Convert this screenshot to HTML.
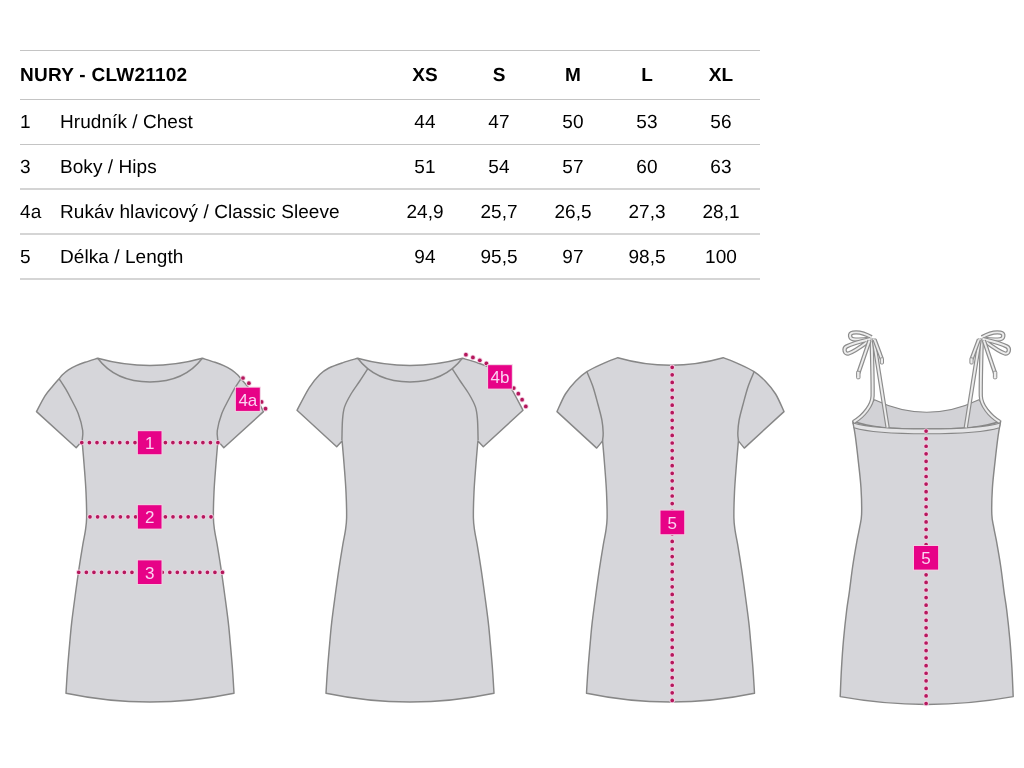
<!DOCTYPE html>
<html><head><meta charset="utf-8"><title>NURY - CLW21102 size chart</title>
<style>
html,body{margin:0;padding:0;background:#fff;}
body{width:1024px;height:768px;position:relative;overflow:hidden;font-family:"Liberation Sans",sans-serif;}
.hl{position:absolute;left:20px;width:740px;height:1px;background:#c4c4c4;}
.t{position:absolute;font-size:19px;color:#000;letter-spacing:0.06px;white-space:nowrap;line-height:22px;text-rendering:geometricPrecision;will-change:transform;}
.b{font-weight:bold;}
.c{width:80px;text-align:center;}
svg{position:absolute;left:0;top:0;}
</style></head>
<body>
<div class="hl" style="top:50px;height:1px;background:#c4c4c4"></div>
<div class="hl" style="top:99px;height:1px;background:#c4c4c4"></div>
<div class="hl" style="top:144px;height:1px;background:#c4c4c4"></div>
<div class="hl" style="top:188px;height:2px;background:#d4d4d4"></div>
<div class="hl" style="top:233px;height:2px;background:#d5d5d5"></div>
<div class="hl" style="top:278px;height:2px;background:#d5d5d5"></div>
<div class="t b" style="left:20px;top:65px;letter-spacing:0.25px">NURY - CLW21102</div>
<div class="t b c" style="left:384.9px;top:65px">XS</div>
<div class="t b c" style="left:458.7px;top:65px">S</div>
<div class="t b c" style="left:532.8px;top:65px">M</div>
<div class="t b c" style="left:607.0px;top:65px">L</div>
<div class="t b c" style="left:681.1px;top:65px">XL</div>
<div class="t" style="left:20px;top:112px">1</div>
<div class="t" style="left:60px;top:112px">Hrudník / Chest</div>
<div class="t c" style="left:384.9px;top:112px">44</div>
<div class="t c" style="left:458.7px;top:112px">47</div>
<div class="t c" style="left:532.8px;top:112px">50</div>
<div class="t c" style="left:607.0px;top:112px">53</div>
<div class="t c" style="left:681.1px;top:112px">56</div>
<div class="t" style="left:20px;top:157px">3</div>
<div class="t" style="left:60px;top:157px">Boky / Hips</div>
<div class="t c" style="left:384.9px;top:157px">51</div>
<div class="t c" style="left:458.7px;top:157px">54</div>
<div class="t c" style="left:532.8px;top:157px">57</div>
<div class="t c" style="left:607.0px;top:157px">60</div>
<div class="t c" style="left:681.1px;top:157px">63</div>
<div class="t" style="left:20px;top:201.5px">4a</div>
<div class="t" style="left:60px;top:201.5px">Rukáv hlavicový / Classic Sleeve</div>
<div class="t c" style="left:384.9px;top:201.5px">24,9</div>
<div class="t c" style="left:458.7px;top:201.5px">25,7</div>
<div class="t c" style="left:532.8px;top:201.5px">26,5</div>
<div class="t c" style="left:607.0px;top:201.5px">27,3</div>
<div class="t c" style="left:681.1px;top:201.5px">28,1</div>
<div class="t" style="left:20px;top:246.5px">5</div>
<div class="t" style="left:60px;top:246.5px">Délka / Length</div>
<div class="t c" style="left:384.9px;top:246.5px">94</div>
<div class="t c" style="left:458.7px;top:246.5px">95,5</div>
<div class="t c" style="left:532.8px;top:246.5px">97</div>
<div class="t c" style="left:607.0px;top:246.5px">98,5</div>
<div class="t c" style="left:681.1px;top:246.5px">100</div>
<svg width="1024" height="768" viewBox="0 0 1024 768">
<path d="M 97.70 358.30 C 95.58 358.97 88.58 361.07 85.00 362.30 C 81.42 363.53 79.02 364.43 76.25 365.70 C 73.48 366.97 70.74 368.33 68.40 369.90 C 66.06 371.47 63.75 373.62 62.20 375.10 C 60.65 376.58 60.67 376.93 59.10 378.75 C 57.53 380.57 55.15 383.14 52.80 386.00 C 50.45 388.86 47.72 391.63 45.00 395.90 C 42.28 400.17 37.92 408.98 36.50 411.60 L 76.20 447.70 L 82.10 440.90 C 82.45 445.08 83.55 457.48 84.20 466.00 C 84.85 474.52 85.60 483.33 86.00 492.00 C 86.40 500.67 86.72 511.47 86.60 518.00 C 86.48 524.53 85.92 526.83 85.30 531.20 C 84.68 535.57 83.99 537.70 82.90 544.20 C 81.81 550.70 80.05 561.53 78.75 570.20 C 77.45 578.88 76.27 587.57 75.10 596.25 C 73.92 604.93 72.55 615.01 71.70 622.30 C 70.85 629.59 70.68 632.38 70.00 640.00 C 69.32 647.62 68.27 659.13 67.60 668.00 C 66.93 676.87 66.27 689.00 66.00 693.20 Q 150.00 710.80 234.00 693.20 C 233.73 689.00 233.07 676.87 232.40 668.00 C 231.73 659.13 230.68 647.62 230.00 640.00 C 229.32 632.38 229.15 629.59 228.30 622.30 C 227.45 615.01 226.07 604.93 224.90 596.25 C 223.73 587.57 222.55 578.88 221.25 570.20 C 219.95 561.53 218.19 550.70 217.10 544.20 C 216.01 537.70 215.32 535.57 214.70 531.20 C 214.08 526.83 213.52 524.53 213.40 518.00 C 213.28 511.47 213.60 500.67 214.00 492.00 C 214.40 483.33 215.15 474.52 215.80 466.00 C 216.45 457.48 217.55 445.08 217.90 440.90 L 223.80 447.70 L 263.50 411.60 C 262.08 408.98 257.72 400.17 255.00 395.90 C 252.28 391.63 249.55 388.86 247.20 386.00 C 244.85 383.14 242.47 380.57 240.90 378.75 C 239.33 376.93 239.35 376.58 237.80 375.10 C 236.25 373.62 233.94 371.47 231.60 369.90 C 229.26 368.33 226.52 366.97 223.75 365.70 C 220.98 364.43 218.57 363.53 215.00 362.30 C 211.43 361.07 204.42 358.97 202.30 358.30 Q 150.00 372.8 97.70 358.30 Z" fill="#d6d6da" stroke="#878787" stroke-width="1.45" stroke-linejoin="round"/>
<path d="M 97.70 358.30 C 108.00 372.00 125.00 382.00 150.00 382.00 C 175.00 382.00 192.00 372.00 202.30 358.30" fill="none" stroke="#878787" stroke-width="1.45"/>
<path d="M 59.10 378.75 C 60.22 380.49 63.72 385.66 65.80 389.20 C 67.88 392.74 69.53 395.93 71.60 400.00 C 73.67 404.07 76.35 408.52 78.20 413.60 C 80.05 418.68 82.05 425.95 82.70 430.50 C 83.35 435.05 82.20 439.17 82.10 440.90 M 240.90 378.75 C 239.78 380.49 236.28 385.66 234.20 389.20 C 232.12 392.74 230.47 395.93 228.40 400.00 C 226.33 404.07 223.65 408.52 221.80 413.60 C 219.95 418.68 217.95 425.95 217.30 430.50 C 216.65 435.05 217.80 439.17 217.90 440.90 " fill="none" stroke="#878787" stroke-width="1.45"/>
<path d="M 357.50 358.30 C 355.08 359.02 347.77 360.98 343.00 362.60 C 338.23 364.22 332.77 366.02 328.90 368.00 C 325.03 369.98 323.07 371.23 319.80 374.50 C 316.53 377.77 313.10 381.63 309.30 387.60 C 305.50 393.57 299.05 406.52 297.00 410.30 L 336.70 446.80 L 342.10 440.90 C 342.45 445.08 343.55 457.48 344.20 466.00 C 344.85 474.52 345.60 483.33 346.00 492.00 C 346.40 500.67 346.72 511.47 346.60 518.00 C 346.48 524.53 345.92 526.83 345.30 531.20 C 344.68 535.57 343.99 537.70 342.90 544.20 C 341.81 550.70 340.05 561.53 338.75 570.20 C 337.45 578.88 336.27 587.57 335.10 596.25 C 333.93 604.93 332.55 615.01 331.70 622.30 C 330.85 629.59 330.68 632.38 330.00 640.00 C 329.32 647.62 328.27 659.13 327.60 668.00 C 326.93 676.87 326.27 689.00 326.00 693.20 Q 410.00 710.80 494.00 693.20 C 493.73 689.00 493.07 676.87 492.40 668.00 C 491.73 659.13 490.68 647.62 490.00 640.00 C 489.32 632.38 489.15 629.59 488.30 622.30 C 487.45 615.01 486.07 604.93 484.90 596.25 C 483.73 587.57 482.55 578.88 481.25 570.20 C 479.95 561.53 478.19 550.70 477.10 544.20 C 476.01 537.70 475.32 535.57 474.70 531.20 C 474.08 526.83 473.52 524.53 473.40 518.00 C 473.28 511.47 473.60 500.67 474.00 492.00 C 474.40 483.33 475.15 474.52 475.80 466.00 C 476.45 457.48 477.55 445.08 477.90 440.90 L 483.30 446.80 L 523.00 410.30 C 520.95 406.52 514.50 393.57 510.70 387.60 C 506.90 381.63 503.47 377.77 500.20 374.50 C 496.93 371.23 494.97 369.98 491.10 368.00 C 487.23 366.02 481.77 364.22 477.00 362.60 C 472.23 360.98 464.92 359.02 462.50 358.30 Q 410.00 372.8 357.50 358.30 Z" fill="#d6d6da" stroke="#878787" stroke-width="1.45" stroke-linejoin="round"/>
<path d="M 357.70 358.30 C 368.00 372.00 385.00 382.00 410.00 382.00 C 435.00 382.00 452.00 372.00 462.30 358.30" fill="none" stroke="#878787" stroke-width="1.45"/>
<path d="M 367.70 368.80 C 366.38 370.83 362.58 376.80 359.80 381.00 C 357.02 385.20 353.55 389.65 351.00 394.00 C 348.45 398.35 345.92 402.75 344.50 407.10 C 343.08 411.45 342.93 414.57 342.50 420.10 C 342.07 425.63 342.00 436.93 341.90 440.30 M 452.30 368.80 C 453.62 370.83 457.42 376.80 460.20 381.00 C 462.98 385.20 466.45 389.65 469.00 394.00 C 471.55 398.35 474.08 402.75 475.50 407.10 C 476.92 411.45 477.07 414.57 477.50 420.10 C 477.93 425.63 478.00 436.93 478.10 440.30 " fill="none" stroke="#878787" stroke-width="1.45"/>
<path d="M 617.80 357.70 C 615.15 358.77 607.05 361.77 601.90 364.10 C 596.75 366.43 591.25 368.88 586.90 371.70 C 582.55 374.52 579.38 377.28 575.80 381.00 C 572.22 384.72 568.53 388.90 565.40 394.00 C 562.27 399.10 558.40 408.67 557.00 411.60 L 596.70 448.10 L 602.60 440.90 C 602.95 445.08 604.05 457.48 604.70 466.00 C 605.35 474.52 606.10 483.33 606.50 492.00 C 606.90 500.67 607.22 511.47 607.10 518.00 C 606.98 524.53 606.42 526.83 605.80 531.20 C 605.18 535.57 604.49 537.70 603.40 544.20 C 602.31 550.70 600.55 561.53 599.25 570.20 C 597.95 578.88 596.77 587.57 595.60 596.25 C 594.42 604.93 593.05 615.01 592.20 622.30 C 591.35 629.59 591.18 632.38 590.50 640.00 C 589.82 647.62 588.77 659.13 588.10 668.00 C 587.43 676.87 586.77 689.00 586.50 693.20 Q 670.50 710.80 754.50 693.20 C 754.23 689.00 753.57 676.87 752.90 668.00 C 752.23 659.13 751.18 647.62 750.50 640.00 C 749.82 632.38 749.65 629.59 748.80 622.30 C 747.95 615.01 746.58 604.93 745.40 596.25 C 744.23 587.57 743.05 578.88 741.75 570.20 C 740.45 561.53 738.69 550.70 737.60 544.20 C 736.51 537.70 735.82 535.57 735.20 531.20 C 734.58 526.83 734.02 524.53 733.90 518.00 C 733.78 511.47 734.10 500.67 734.50 492.00 C 734.90 483.33 735.65 474.52 736.30 466.00 C 736.95 457.48 738.05 445.08 738.40 440.90 L 744.30 448.10 L 784.00 411.60 C 782.60 408.67 778.73 399.10 775.60 394.00 C 772.47 388.90 768.78 384.72 765.20 381.00 C 761.62 377.28 758.45 374.52 754.10 371.70 C 749.75 368.88 744.25 366.43 739.10 364.10 C 733.95 361.77 725.85 358.77 723.20 357.70 Q 670.50 372.8 617.80 357.70 Z" fill="#d6d6da" stroke="#878787" stroke-width="1.45" stroke-linejoin="round"/>
<path d="M 586.90 371.70 C 587.88 374.12 590.95 380.78 592.80 386.25 C 594.65 391.72 596.48 398.86 598.00 404.50 C 599.52 410.14 601.03 415.33 601.90 420.10 C 602.77 424.87 603.10 429.63 603.20 433.10 C 603.30 436.57 602.62 439.60 602.50 440.90 M 754.10 371.70 C 753.12 374.12 750.05 380.78 748.20 386.25 C 746.35 391.72 744.52 398.86 743.00 404.50 C 741.48 410.14 739.97 415.33 739.10 420.10 C 738.23 424.87 737.90 429.63 737.80 433.10 C 737.70 436.57 738.38 439.60 738.50 440.90 " fill="none" stroke="#878787" stroke-width="1.45"/>
<line x1="81.8" y1="442.6" x2="135.5" y2="442.6" stroke="#f2cfe2" stroke-width="5.4" stroke-linecap="round" stroke-dasharray="0 7.6"/><line x1="81.8" y1="442.6" x2="135.5" y2="442.6" stroke="#b5175c" stroke-width="3.7" stroke-linecap="round" stroke-dasharray="0 7.6"/>
<line x1="165.4" y1="442.6" x2="218.5" y2="442.6" stroke="#f2cfe2" stroke-width="5.4" stroke-linecap="round" stroke-dasharray="0 7.5"/><line x1="165.4" y1="442.6" x2="218.5" y2="442.6" stroke="#b5175c" stroke-width="3.7" stroke-linecap="round" stroke-dasharray="0 7.5"/>
<rect x="136.90" y="430.20" width="25.60" height="25.00" fill="#f2cfe2"/><rect x="137.9" y="431.2" width="23.6" height="23.0" fill="#e70287"/><text x="149.70" y="449.20" text-anchor="middle" font-family="Liberation Sans, sans-serif" font-size="17" fill="#fbd2f1">1</text>
<line x1="90" y1="516.8" x2="136" y2="516.8" stroke="#f2cfe2" stroke-width="5.4" stroke-linecap="round" stroke-dasharray="0 7.6"/><line x1="90" y1="516.8" x2="136" y2="516.8" stroke="#b5175c" stroke-width="3.7" stroke-linecap="round" stroke-dasharray="0 7.6"/>
<line x1="165.4" y1="516.8" x2="211.5" y2="516.8" stroke="#f2cfe2" stroke-width="5.4" stroke-linecap="round" stroke-dasharray="0 7.6"/><line x1="165.4" y1="516.8" x2="211.5" y2="516.8" stroke="#b5175c" stroke-width="3.7" stroke-linecap="round" stroke-dasharray="0 7.6"/>
<rect x="136.90" y="504.20" width="25.60" height="25.40" fill="#f2cfe2"/><rect x="137.9" y="505.2" width="23.6" height="23.4" fill="#e70287"/><text x="149.70" y="523.40" text-anchor="middle" font-family="Liberation Sans, sans-serif" font-size="17" fill="#fbd2f1">2</text>
<line x1="78.75" y1="572.3" x2="137" y2="572.3" stroke="#f2cfe2" stroke-width="5.4" stroke-linecap="round" stroke-dasharray="0 7.6"/><line x1="78.75" y1="572.3" x2="137" y2="572.3" stroke="#b5175c" stroke-width="3.7" stroke-linecap="round" stroke-dasharray="0 7.6"/>
<line x1="162.3" y1="572.3" x2="223" y2="572.3" stroke="#f2cfe2" stroke-width="5.4" stroke-linecap="round" stroke-dasharray="0 7.52"/><line x1="162.3" y1="572.3" x2="223" y2="572.3" stroke="#b5175c" stroke-width="3.7" stroke-linecap="round" stroke-dasharray="0 7.52"/>
<rect x="136.90" y="559.40" width="25.60" height="25.60" fill="#f2cfe2"/><rect x="137.9" y="560.4" width="23.6" height="23.6" fill="#e70287"/><text x="149.70" y="578.70" text-anchor="middle" font-family="Liberation Sans, sans-serif" font-size="17" fill="#fbd2f1">3</text>
<circle cx="243" cy="378" r="2.7" fill="#f2cfe2"/><circle cx="248.9" cy="383.2" r="2.7" fill="#f2cfe2"/><circle cx="261.6" cy="401.9" r="2.7" fill="#f2cfe2"/><circle cx="265.5" cy="408.7" r="2.7" fill="#f2cfe2"/><circle cx="243" cy="378" r="1.85" fill="#b5175c"/><circle cx="248.9" cy="383.2" r="1.85" fill="#b5175c"/><circle cx="261.6" cy="401.9" r="1.85" fill="#b5175c"/><circle cx="265.5" cy="408.7" r="1.85" fill="#b5175c"/>
<rect x="234.90" y="386.70" width="25.90" height="25.20" fill="#f2cfe2"/><rect x="235.9" y="387.7" width="23.9" height="23.2" fill="#e70287"/><text x="247.85" y="405.80" text-anchor="middle" font-family="Liberation Sans, sans-serif" font-size="17" fill="#fbd2f1">4a</text>
<circle cx="465.9" cy="354.7" r="2.7" fill="#f2cfe2"/><circle cx="472.9" cy="357.4" r="2.7" fill="#f2cfe2"/><circle cx="479.8" cy="360.3" r="2.7" fill="#f2cfe2"/><circle cx="486.4" cy="363.4" r="2.7" fill="#f2cfe2"/><circle cx="513.8" cy="388.1" r="2.7" fill="#f2cfe2"/><circle cx="518.3" cy="393.7" r="2.7" fill="#f2cfe2"/><circle cx="522.1" cy="399.7" r="2.7" fill="#f2cfe2"/><circle cx="525.8" cy="406.4" r="2.7" fill="#f2cfe2"/><circle cx="465.9" cy="354.7" r="1.85" fill="#b5175c"/><circle cx="472.9" cy="357.4" r="1.85" fill="#b5175c"/><circle cx="479.8" cy="360.3" r="1.85" fill="#b5175c"/><circle cx="486.4" cy="363.4" r="1.85" fill="#b5175c"/><circle cx="513.8" cy="388.1" r="1.85" fill="#b5175c"/><circle cx="518.3" cy="393.7" r="1.85" fill="#b5175c"/><circle cx="522.1" cy="399.7" r="1.85" fill="#b5175c"/><circle cx="525.8" cy="406.4" r="1.85" fill="#b5175c"/>
<rect x="487.10" y="364.20" width="25.70" height="25.40" fill="#f2cfe2"/><rect x="488.1" y="365.2" width="23.7" height="23.4" fill="#e70287"/><text x="499.95" y="383.40" text-anchor="middle" font-family="Liberation Sans, sans-serif" font-size="17" fill="#fbd2f1">4b</text>
<line x1="672.2" y1="367.3" x2="672.2" y2="701.5" stroke="#f2cfe2" stroke-width="5.4" stroke-linecap="round" stroke-dasharray="0 7.57"/><line x1="672.2" y1="367.3" x2="672.2" y2="701.5" stroke="#b5175c" stroke-width="3.7" stroke-linecap="round" stroke-dasharray="0 7.57"/>
<rect x="659.50" y="509.60" width="25.70" height="25.60" fill="#f2cfe2"/><rect x="660.5" y="510.6" width="23.7" height="23.6" fill="#e70287"/><text x="672.35" y="528.90" text-anchor="middle" font-family="Liberation Sans, sans-serif" font-size="17" fill="#fbd2f1">5</text>
<path d="M 874.5 399.8 Q 926.7 424.8 978.90 399.8 L 1000.20 423 C 983.40 428, 958.40 429, 926.7 429 C 895 429, 870 428, 853.2 423 Z" fill="#d2d2d6" stroke="#878787" stroke-width="1.1"/>
<path d="M 852.70 421.00 C 853.13 423.50 854.35 429.17 855.30 436.00 C 856.25 442.83 857.45 453.33 858.40 462.00 C 859.35 470.67 860.47 479.30 861.00 488.00 C 861.53 496.70 861.82 507.67 861.60 514.20 C 861.38 520.73 860.45 522.87 859.70 527.20 C 858.95 531.53 858.27 533.69 857.10 540.20 C 855.93 546.71 854.00 557.57 852.70 566.25 C 851.40 574.93 850.30 585.01 849.30 592.30 C 848.30 599.59 847.67 602.05 846.70 610.00 C 845.73 617.95 844.37 630.33 843.50 640.00 C 842.63 649.67 842.05 658.57 841.50 668.00 C 840.95 677.43 840.42 691.83 840.20 696.60 Q 926.70 712.2 1013.20 696.60 C 1012.98 691.83 1012.45 677.43 1011.90 668.00 C 1011.35 658.57 1010.77 649.67 1009.90 640.00 C 1009.03 630.33 1007.67 617.95 1006.70 610.00 C 1005.73 602.05 1005.10 599.59 1004.10 592.30 C 1003.10 585.01 1002.00 574.93 1000.70 566.25 C 999.40 557.57 997.47 546.71 996.30 540.20 C 995.13 533.69 994.45 531.53 993.70 527.20 C 992.95 522.87 992.02 520.73 991.80 514.20 C 991.58 507.67 991.87 496.70 992.40 488.00 C 992.93 479.30 994.05 470.67 995.00 462.00 C 995.95 453.33 997.15 442.83 998.10 436.00 C 999.05 429.17 1000.27 423.50 1000.70 421.00 C 983.40 428, 958.40 429, 926.7 429 C 895 429, 870 428, 852.70 421.00 Z" fill="#d6d6da" stroke="#878787" stroke-width="1.45" stroke-linejoin="round"/>
<path d="M 853.2 423.0 C 870 428, 895 429, 926.7 429 C 958.40 429, 983.40 428, 1000.20 423.0 L 999.40 427.7 C 983.40 432.7, 958.40 433.7, 926.7 433.7 C 895 433.7, 870 432.7, 854 427.7 Z" fill="#e4e4e6" stroke="#878787" stroke-width="1.1"/>
<path d="M 871.6 338.5 C 872.2 360, 872.8 385, 872.6 396 C 872.3 405, 864 416, 853.8 421.8" fill="none" stroke="#8c8c8c" stroke-width="4.3" stroke-linejoin="round"/><path d="M 871.6 338.5 C 872.2 360, 872.8 385, 872.6 396 C 872.3 405, 864 416, 853.8 421.8" fill="none" stroke="#ececec" stroke-width="1.9" stroke-linejoin="round"/>
<path d="M 981.80 338.50 C 981.20 360.00 980.60 385.00 980.80 396.00 C 981.10 405.00 989.40 416.00 999.60 421.80" fill="none" stroke="#8c8c8c" stroke-width="4.3" stroke-linejoin="round"/><path d="M 981.80 338.50 C 981.20 360.00 980.60 385.00 980.80 396.00 C 981.10 405.00 989.40 416.00 999.60 421.80" fill="none" stroke="#ececec" stroke-width="1.9" stroke-linejoin="round"/>
<path d="M 873.5 338.5 L 887.6 427.5" fill="none" stroke="#8c8c8c" stroke-width="4.3" stroke-linejoin="round"/><path d="M 873.5 338.5 L 887.6 427.5" fill="none" stroke="#ececec" stroke-width="1.9" stroke-linejoin="round"/>
<path d="M 979.90 338.50 L 965.80 427.50" fill="none" stroke="#8c8c8c" stroke-width="4.3" stroke-linejoin="round"/><path d="M 979.90 338.50 L 965.80 427.50" fill="none" stroke="#ececec" stroke-width="1.9" stroke-linejoin="round"/>
<path d="M 871.5 337.2 C 866 334, 858 331.8, 853 332.6 C 848.5 333.5, 849.5 338.8, 853.5 339.3 C 858 339.8, 864 339.5, 870.5 338.5" fill="none" stroke="#8c8c8c" stroke-width="4.3" stroke-linejoin="round"/><path d="M 871.5 337.2 C 866 334, 858 331.8, 853 332.6 C 848.5 333.5, 849.5 338.8, 853.5 339.3 C 858 339.8, 864 339.5, 870.5 338.5" fill="none" stroke="#ececec" stroke-width="1.9" stroke-linejoin="round"/>
<path d="M 981.90 337.20 C 987.40 334.00 995.40 331.80 1000.40 332.60 C 1004.90 333.50 1003.90 338.80 999.90 339.30 C 995.40 339.80 989.40 339.50 982.90 338.50" fill="none" stroke="#8c8c8c" stroke-width="4.3" stroke-linejoin="round"/><path d="M 981.90 337.20 C 987.40 334.00 995.40 331.80 1000.40 332.60 C 1004.90 333.50 1003.90 338.80 999.90 339.30 C 995.40 339.80 989.40 339.50 982.90 338.50" fill="none" stroke="#ececec" stroke-width="1.9" stroke-linejoin="round"/>
<path d="M 870.5 339 C 862 341, 851 344, 846.5 346.5 C 843 348.5, 844.5 354.5, 848.5 353.5 C 854 352, 862 346, 869.5 340.5" fill="none" stroke="#8c8c8c" stroke-width="4.3" stroke-linejoin="round"/><path d="M 870.5 339 C 862 341, 851 344, 846.5 346.5 C 843 348.5, 844.5 354.5, 848.5 353.5 C 854 352, 862 346, 869.5 340.5" fill="none" stroke="#ececec" stroke-width="1.9" stroke-linejoin="round"/>
<path d="M 982.90 339.00 C 991.40 341.00 1002.40 344.00 1006.90 346.50 C 1010.40 348.50 1008.90 354.50 1004.90 353.50 C 999.40 352.00 991.40 346.00 983.90 340.50" fill="none" stroke="#8c8c8c" stroke-width="4.3" stroke-linejoin="round"/><path d="M 982.90 339.00 C 991.40 341.00 1002.40 344.00 1006.90 346.50 C 1010.40 348.50 1008.90 354.50 1004.90 353.50 C 999.40 352.00 991.40 346.00 983.90 340.50" fill="none" stroke="#ececec" stroke-width="1.9" stroke-linejoin="round"/>
<path d="M 869.5 340.5 L 858.4 373" fill="none" stroke="#8c8c8c" stroke-width="4.3" stroke-linejoin="round"/><path d="M 869.5 340.5 L 858.4 373" fill="none" stroke="#ececec" stroke-width="1.9" stroke-linejoin="round"/>
<path d="M 983.90 340.50 L 995.00 373.00" fill="none" stroke="#8c8c8c" stroke-width="4.3" stroke-linejoin="round"/><path d="M 983.90 340.50 L 995.00 373.00" fill="none" stroke="#ececec" stroke-width="1.9" stroke-linejoin="round"/>
<path d="M 874.5 339.5 L 881.8 359" fill="none" stroke="#8c8c8c" stroke-width="4.3" stroke-linejoin="round"/><path d="M 874.5 339.5 L 881.8 359" fill="none" stroke="#ececec" stroke-width="1.9" stroke-linejoin="round"/>
<path d="M 978.90 339.50 L 971.60 359.00" fill="none" stroke="#8c8c8c" stroke-width="4.3" stroke-linejoin="round"/><path d="M 978.90 339.50 L 971.60 359.00" fill="none" stroke="#ececec" stroke-width="1.9" stroke-linejoin="round"/>
<rect x="856.6" y="371.2" width="3.4" height="7.6" rx="1" fill="#ececec" stroke="#8c8c8c" stroke-width="1"/>
<rect x="993.40" y="371.2" width="3.4" height="7.6" rx="1" fill="#ececec" stroke="#8c8c8c" stroke-width="1"/>
<rect x="880.3" y="357.8" width="3.2" height="6.2" rx="1" fill="#ececec" stroke="#8c8c8c" stroke-width="1"/>
<rect x="969.90" y="357.8" width="3.2" height="6.2" rx="1" fill="#ececec" stroke="#8c8c8c" stroke-width="1"/>
<line x1="926.1" y1="431.1" x2="926.1" y2="704.5" stroke="#f2cfe2" stroke-width="5.4" stroke-linecap="round" stroke-dasharray="0 7.567"/><line x1="926.1" y1="431.1" x2="926.1" y2="704.5" stroke="#b5175c" stroke-width="3.7" stroke-linecap="round" stroke-dasharray="0 7.567"/>
<rect x="913.00" y="545.00" width="26.10" height="25.60" fill="#f2cfe2"/><rect x="914" y="546" width="24.1" height="23.6" fill="#e70287"/><text x="926.05" y="564.30" text-anchor="middle" font-family="Liberation Sans, sans-serif" font-size="17" fill="#fbd2f1">5</text>
</svg>
</body></html>
